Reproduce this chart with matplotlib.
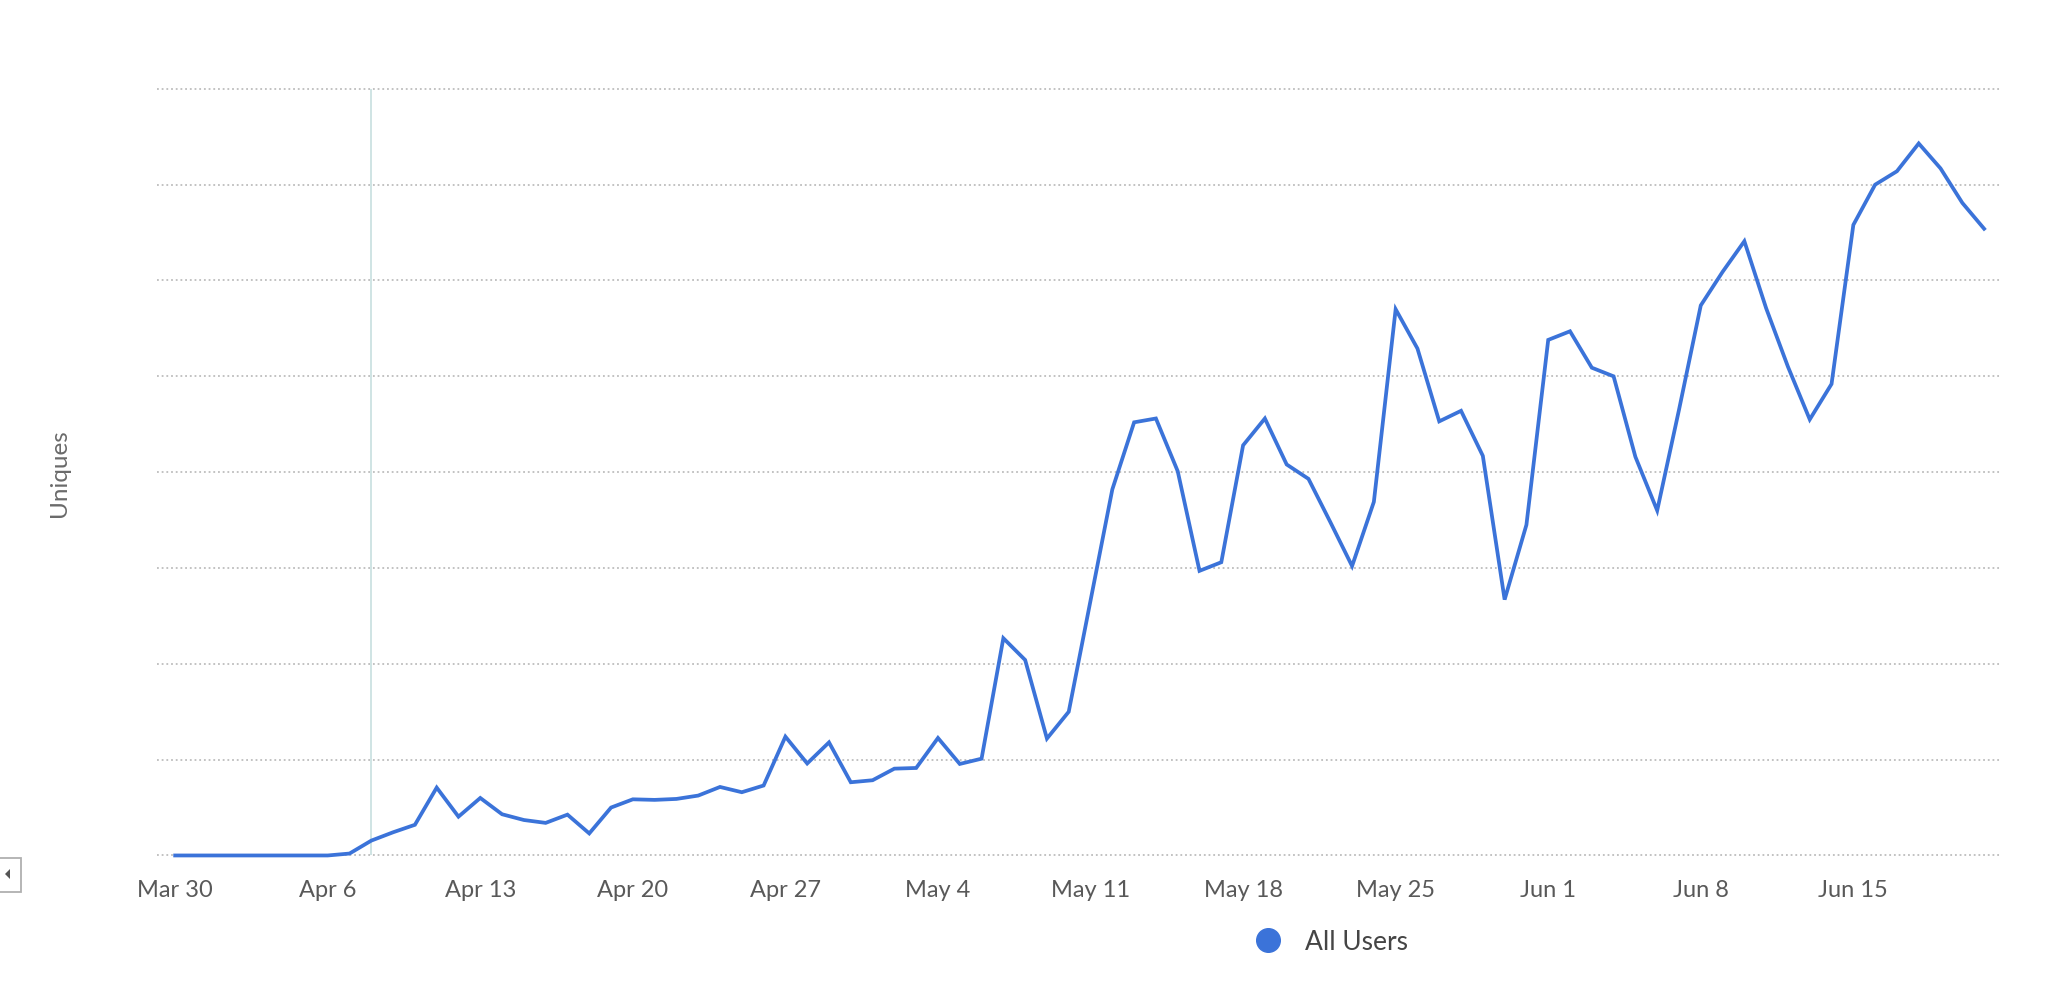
import matplotlib
matplotlib.use("Agg")
import matplotlib.pyplot as plt
import matplotlib.patches as mpatches
from matplotlib.lines import Line2D
import pandas as pd
import numpy as np

# ---------------- data ----------------
start_date = "2020-03-30"
series_name = "All Users"
y_label = "Uniques"
uniques = [0, 0, 0, 0, 0, 0, 0, 0, 20, 155,
           242, 320, 708, 405, 600, 430, 370, 340, 426, 230,
           500, 586, 580, 590, 625, 715, 660, 730, 1240, 960,
           1180, 764, 785, 906, 913, 1226, 955, 1010, 2267, 2040,
           1220, 1500, 2660, 3820, 4520, 4560, 4010, 2970, 3060, 4280,
           4560, 4080, 3930, 3480, 3020, 3690, 5700, 5290, 4530, 4640,
           4170, 2670, 3450, 5380, 5470, 5090, 5000, 4160, 3600, 4650,
           5740, 6090, 6410, 5710, 5100, 4550, 4920, 6580, 7000, 7140,
           7430, 7170, 6810, 6540]
tick_labels = ["Mar 30", "Apr 6", "Apr 13", "Apr 20", "Apr 27", "May 4",
               "May 11", "May 18", "May 25", "Jun 1", "Jun 8", "Jun 15"]
marker_date = "2020-04-08"
grid_values = [0, 1000, 2000, 3000, 4000, 5000, 6000, 7000, 8000]

# ---------------- style ----------------
plt.rcParams['font.family'] = ['Lato', 'DejaVu Sans']
LINE_COLOR = "#3b73d9"
TEXT_COLOR = "#595959"

W, H = 2048, 994
fig = plt.figure(figsize=(W / 100, H / 100), dpi=100)

def px_axes(l, t, r, b):
    return [l / W, 1 - b / H, (r - l) / W, (b - t) / H]

ax = fig.add_axes(px_axes(157, 85.0, 2000, 859.3))

dates = pd.date_range(start_date, periods=len(uniques), freq="D")
year = dates[0].year
tick_dates = pd.to_datetime([f"{t} {year}" for t in tick_labels], format="%b %d %Y")

# grid lines
for g in grid_values:
    ax.axhline(g, color="#bdbdbd", lw=1.3, ls=(0, (1, 1.6)), zorder=1)

# vertical marker
ax.vlines(pd.Timestamp(marker_date), grid_values[0], grid_values[-1],
          color="#cfe4e4", lw=1.4, zorder=1.5)

ax.plot(dates, uniques, color=LINE_COLOR, lw=2.7, solid_joinstyle="miter", zorder=3)

ax.set_xlim(dates[0] - pd.Timedelta(hours=20), dates[-1] + pd.Timedelta(hours=17.5))
ax.set_ylim(-40, 8040)

for s in ax.spines.values():
    s.set_visible(False)
ax.set_yticks([])
ax.set_xticks(tick_dates)
ax.set_xticklabels(tick_labels, fontsize=17, color=TEXT_COLOR)
ax.tick_params(axis="x", length=0, pad=15)

fig.text(59 / W, 1 - 473 / H, y_label, rotation=90, ha="center", va="center",
         fontsize=17.5, color="#6a6a6a")

handle = Line2D([], [], marker="o", linestyle="None", color=LINE_COLOR, markersize=17)
fig.legend([handle], [series_name], loc="center",
           bbox_to_anchor=(1325 / W, 1 - 942 / H), frameon=False,
           fontsize=19, handletextpad=0.4, labelcolor="#454545")

# small scroll arrow box at left edge
fig.patches.append(mpatches.Rectangle((-3 / W, 1 - 892 / H), 24 / W, 34 / H,
                                      transform=fig.transFigure, facecolor="white",
                                      edgecolor="#b0b0b0", lw=1.3))
fig.patches.append(mpatches.Polygon([(5 / W, 1 - 874 / H), (10 / W, 1 - 869 / H), (10 / W, 1 - 879 / H)],
                                    closed=True, transform=fig.transFigure,
                                    facecolor="#555555", edgecolor="none"))

fig.savefig("out.png", dpi=100, facecolor="white")
